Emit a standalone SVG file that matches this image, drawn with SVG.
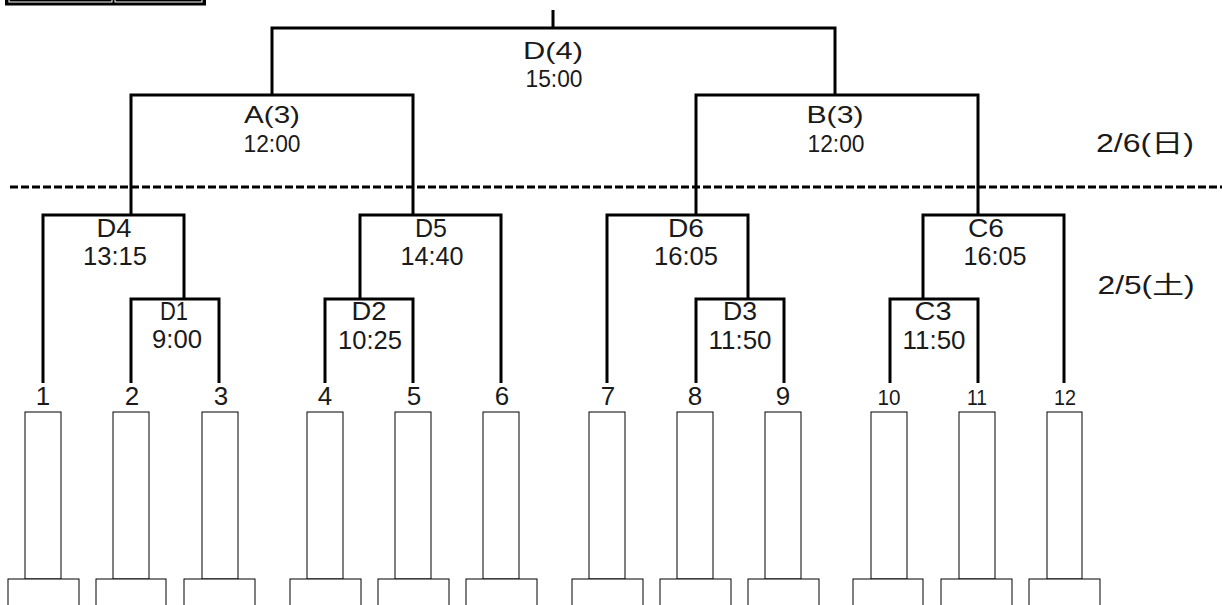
<svg xmlns="http://www.w3.org/2000/svg" width="1222" height="605" viewBox="0 0 1222 605">
<style>
  .ln{fill:none;stroke:#000;stroke-width:3;stroke-linejoin:miter;stroke-linecap:butt}
  .dash{fill:none;stroke:#000;stroke-width:3;stroke-dasharray:8 3}
  .bx{fill:#fff;stroke:#000;stroke-width:1}
  text{font-family:"Liberation Sans","Noto Sans CJK JP",sans-serif;fill:#1a1a1a;text-anchor:middle}
  .t1{font-size:24px}
  .t2{font-size:25px}
  .t3{font-size:26px}
  .t4{font-size:22px}
</style>
<rect width="1222" height="605" fill="#fff"/>
<g id="header-box">
  <rect x="5" y="-6" width="201" height="11.5" fill="#000"/>
  <rect x="9" y="-6" width="103" height="8" fill="#000" stroke="#fff" stroke-width="1"/>
  <rect x="115" y="-6" width="87" height="8" fill="#000" stroke="#fff" stroke-width="1"/>
</g>
<g id="day-divider">
  <line class="dash" x1="10" y1="187" x2="1222" y2="187"/>
</g>
<g id="connectors">
  <path class="ln" d="M553 10V28"/>
  <path class="ln" d="M272 95V28H835V95"/>
  <path class="ln" d="M131 215V95H413V215"/>
  <path class="ln" d="M696 215V95H978V215"/>
  <path class="ln" d="M43 383V215H184V299"/>
  <path class="ln" d="M131 383V299H219V383"/>
  <path class="ln" d="M360 299V215H501V383"/>
  <path class="ln" d="M325 383V299H413V383"/>
  <path class="ln" d="M607 383V215H748V299"/>
  <path class="ln" d="M696 383V299H784V383"/>
  <path class="ln" d="M923 299V215H1064V383"/>
  <path class="ln" d="M890 383V299H978V383"/>
</g>
<g id="match-final">
  <text class="t1" x="553" y="59" textLength="60" lengthAdjust="spacingAndGlyphs">D(4)</text>
  <text class="t1" x="554" y="87" textLength="57" lengthAdjust="spacingAndGlyphs">15:00</text>
</g>
<g id="match-A">
  <text class="t1" x="272" y="123" textLength="56" lengthAdjust="spacingAndGlyphs">A(3)</text>
  <text class="t1" x="272" y="152" textLength="57" lengthAdjust="spacingAndGlyphs">12:00</text>
</g>
<g id="match-B">
  <text class="t1" x="835" y="123" textLength="57" lengthAdjust="spacingAndGlyphs">B(3)</text>
  <text class="t1" x="836" y="152" textLength="57" lengthAdjust="spacingAndGlyphs">12:00</text>
</g>
<g id="date-day2">
  <text class="t2" x="1145" y="152" textLength="98" lengthAdjust="spacingAndGlyphs">2/6(日)</text>
</g>
<g id="date-day1">
  <text class="t2" x="1146" y="294" textLength="97" lengthAdjust="spacingAndGlyphs">2/5(土)</text>
</g>
<g id="match-D4">
  <text class="t2" x="114" y="237" textLength="35" lengthAdjust="spacingAndGlyphs">D4</text>
  <text class="t2" x="115" y="265" textLength="64" lengthAdjust="spacingAndGlyphs">13:15</text>
</g>
<g id="match-D1">
  <text class="t2" x="174" y="320" textLength="28" lengthAdjust="spacingAndGlyphs">D1</text>
  <text class="t2" x="177" y="348" textLength="50" lengthAdjust="spacingAndGlyphs">9:00</text>
</g>
<g id="match-D5">
  <text class="t2" x="431" y="237" textLength="32" lengthAdjust="spacingAndGlyphs">D5</text>
  <text class="t2" x="432" y="265" textLength="63" lengthAdjust="spacingAndGlyphs">14:40</text>
</g>
<g id="match-D2">
  <text class="t2" x="369" y="320" textLength="35" lengthAdjust="spacingAndGlyphs">D2</text>
  <text class="t2" x="370" y="349" textLength="64" lengthAdjust="spacingAndGlyphs">10:25</text>
</g>
<g id="match-D6">
  <text class="t2" x="686" y="237" textLength="36" lengthAdjust="spacingAndGlyphs">D6</text>
  <text class="t2" x="686" y="265" textLength="64" lengthAdjust="spacingAndGlyphs">16:05</text>
</g>
<g id="match-D3">
  <text class="t2" x="740" y="320" textLength="34" lengthAdjust="spacingAndGlyphs">D3</text>
  <text class="t2" x="740" y="349" textLength="63" lengthAdjust="spacingAndGlyphs">11:50</text>
</g>
<g id="match-C6">
  <text class="t2" x="986" y="237" textLength="36" lengthAdjust="spacingAndGlyphs">C6</text>
  <text class="t2" x="995" y="265" textLength="63" lengthAdjust="spacingAndGlyphs">16:05</text>
</g>
<g id="match-C3">
  <text class="t2" x="933" y="320" textLength="37" lengthAdjust="spacingAndGlyphs">C3</text>
  <text class="t2" x="934" y="349" textLength="63" lengthAdjust="spacingAndGlyphs">11:50</text>
</g>
<g id="team-1"><text class="t3" x="43" y="405">1</text><rect class="bx" x="25" y="412" width="36" height="167"/><rect class="bx" x="8" y="579" width="71" height="32"/></g>
<g id="team-2"><text class="t3" x="132" y="405">2</text><rect class="bx" x="113" y="412" width="36" height="167"/><rect class="bx" x="96" y="579" width="70" height="32"/></g>
<g id="team-3"><text class="t3" x="221" y="405">3</text><rect class="bx" x="202" y="412" width="36" height="167"/><rect class="bx" x="184" y="579" width="71" height="32"/></g>
<g id="team-4"><text class="t3" x="325" y="405">4</text><rect class="bx" x="307" y="412" width="36" height="167"/><rect class="bx" x="290" y="579" width="71" height="32"/></g>
<g id="team-5"><text class="t3" x="414" y="405">5</text><rect class="bx" x="395" y="412" width="36" height="167"/><rect class="bx" x="378" y="579" width="71" height="32"/></g>
<g id="team-6"><text class="t3" x="502" y="405">6</text><rect class="bx" x="483" y="412" width="36" height="167"/><rect class="bx" x="466" y="579" width="71" height="32"/></g>
<g id="team-7"><text class="t3" x="608" y="405">7</text><rect class="bx" x="589" y="412" width="36" height="167"/><rect class="bx" x="572" y="579" width="71" height="32"/></g>
<g id="team-8"><text class="t3" x="695" y="405">8</text><rect class="bx" x="677" y="412" width="36" height="167"/><rect class="bx" x="660" y="579" width="71" height="32"/></g>
<g id="team-9"><text class="t3" x="783" y="405">9</text><rect class="bx" x="765" y="412" width="36" height="167"/><rect class="bx" x="748" y="579" width="71" height="32"/></g>
<g id="team-10"><text class="t4" x="889" y="405" textLength="23" lengthAdjust="spacingAndGlyphs">10</text><rect class="bx" x="871" y="412" width="36" height="167"/><rect class="bx" x="853" y="579" width="70" height="32"/></g>
<g id="team-11"><text class="t4" x="977" y="405" textLength="20" lengthAdjust="spacingAndGlyphs">11</text><rect class="bx" x="959" y="412" width="36" height="167"/><rect class="bx" x="941" y="579" width="71" height="32"/></g>
<g id="team-12"><text class="t4" x="1065" y="405" textLength="22" lengthAdjust="spacingAndGlyphs">12</text><rect class="bx" x="1047" y="412" width="35" height="167"/><rect class="bx" x="1029" y="579" width="71" height="32"/></g>
</svg>
